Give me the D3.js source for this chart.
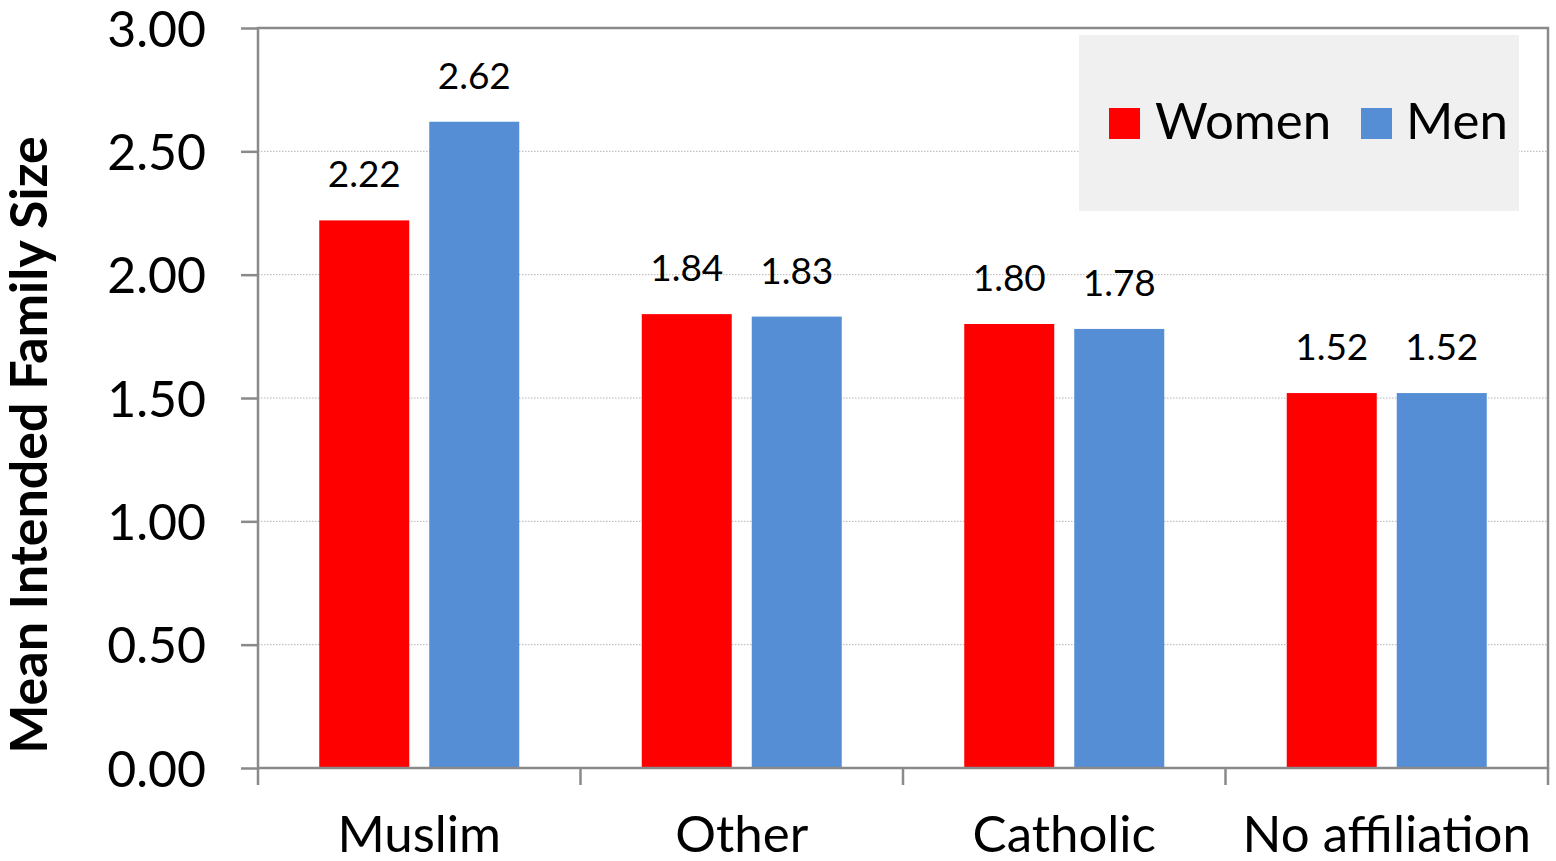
<!DOCTYPE html>
<html>
<head>
<meta charset="utf-8">
<script src="https://cdn.jsdelivr.net/npm/d3@7"></script>
<style>
  html, body { margin: 0; padding: 0; background: #ffffff; }
  svg { display: block; font-family: Lato, "Open Sans", sans-serif; }
</style>
</head>
<body>
<svg id="chart" width="1556" height="861"></svg>
<script>
// Mean intended family size by religious affiliation and sex
const categories = ["Muslim", "Other", "Catholic", "No affiliation"];
const seriesNames = ["Women", "Men"];
const women = [2.22, 1.84, 1.80, 1.52];
const men = [2.62, 1.83, 1.78, 1.52];
const yTicks = [0, 0.5, 1.0, 1.5, 2.0, 2.5, 3.0];
const yTitle = "Mean Intended Family Size";

const colors = { Women: "#ff0000", Men: "#558ed5" };
const frameColor = "#8a8a8a";

const svg = d3.select("#chart");
const plot = { left: 258, right: 1548, top: 28, bottom: 768 };

const x = d3.scaleBand()
  .domain(categories)
  .range([plot.left, plot.right])
  .paddingInner(0)
  .paddingOuter(0);

// bars 90px wide with a 20px gap inside each 322.5px band
const xInner = d3.scaleBand()
  .domain(seriesNames)
  .range([0, x.bandwidth()])
  .paddingInner(20 / 110)
  .paddingOuter((x.bandwidth() / 110 - 2 + 20 / 110) / 2);

const y = d3.scaleLinear().domain([0, 3]).range([plot.bottom, plot.top]);

// dotted gridlines
svg.append("g")
  .selectAll("line")
  .data(yTicks.filter(t => t > 0 && t < 3))
  .join("line")
  .attr("x1", plot.left)
  .attr("x2", plot.right)
  .attr("y1", d => y(d))
  .attr("y2", d => y(d))
  .attr("stroke", "#b4b4b4")
  .attr("stroke-width", 1)
  .attr("stroke-dasharray", "1.5,1.5");

// legend panel (drawn over the gridlines)
const legend = svg.append("g");
legend.append("rect")
  .attr("x", 1079).attr("y", 35)
  .attr("width", 440).attr("height", 176)
  .attr("fill", "#f0f0f0");
const legendItems = [
  { name: "Women", sx: 1109, tx: 1155 },
  { name: "Men", sx: 1361, tx: 1406 }
];
legendItems.forEach(it => {
  legend.append("rect")
    .attr("x", it.sx).attr("y", 108)
    .attr("width", 31).attr("height", 31)
    .attr("fill", colors[it.name]);
  legend.append("text")
    .attr("x", it.tx).attr("y", 139)
    .attr("font-size", 51)
    .attr("fill", "#000")
    .text(it.name);
});

// bars
const rows = categories.map((c, i) => ({ cat: c, values: [
  { series: "Women", value: women[i] },
  { series: "Men", value: men[i] }
] }));

const groups = svg.append("g")
  .selectAll("g")
  .data(rows)
  .join("g")
  .attr("transform", d => `translate(${x(d.cat)},0)`);

groups.selectAll("rect")
  .data(d => d.values)
  .join("rect")
  .attr("x", d => xInner(d.series))
  .attr("width", xInner.bandwidth())
  .attr("y", d => y(d.value))
  .attr("height", d => y(0) - y(d.value))
  .attr("fill", d => colors[d.series]);

groups.selectAll("text")
  .data(d => d.values)
  .join("text")
  .attr("x", d => xInner(d.series) + xInner.bandwidth() / 2)
  .attr("y", d => y(d.value) - 33)
  .attr("text-anchor", "middle")
  .attr("font-size", 37)
  .attr("fill", "#000")
  .text(d => d.value.toFixed(2));

// frame around the plot area
svg.append("rect")
  .attr("x", plot.left).attr("y", plot.top)
  .attr("width", plot.right - plot.left)
  .attr("height", plot.bottom - plot.top)
  .attr("fill", "none")
  .attr("stroke", frameColor)
  .attr("stroke-width", 2.5);

// y axis
const yAxis = d3.axisLeft(y)
  .tickValues(yTicks)
  .tickSize(17)
  .tickPadding(35)
  .tickFormat(d3.format(".2f"));
const gy = svg.append("g")
  .attr("transform", `translate(${plot.left},0)`)
  .call(yAxis);
gy.select(".domain").remove();
gy.selectAll(".tick line").attr("stroke", frameColor).attr("stroke-width", 2.5);
gy.selectAll(".tick text")
  .attr("font-family", "Lato, sans-serif")
  .attr("font-size", 50)
  .attr("fill", "#000")
  .attr("dy", "0.36em");

// x axis: ticks at category boundaries, labels centred in each band
const boundaries = d3.range(categories.length + 1).map(i => plot.left + i * x.step());
svg.append("g")
  .selectAll("line")
  .data(boundaries)
  .join("line")
  .attr("x1", d => d).attr("x2", d => d)
  .attr("y1", plot.bottom).attr("y2", plot.bottom + 17)
  .attr("stroke", frameColor)
  .attr("stroke-width", 2.5);

svg.append("g")
  .selectAll("text")
  .data(categories)
  .join("text")
  .attr("x", d => x(d) + x.bandwidth() / 2)
  .attr("y", 852)
  .attr("text-anchor", "middle")
  .attr("font-size", 51)
  .attr("fill", "#000")
  .text(d => d);

// y axis title
svg.append("text")
  .attr("transform", "translate(47,445) rotate(-90)")
  .attr("text-anchor", "middle")
  .attr("font-size", 52)
  .attr("font-weight", "bold")
  .attr("fill", "#000")
  .text(yTitle);
</script>
</body>
</html>
